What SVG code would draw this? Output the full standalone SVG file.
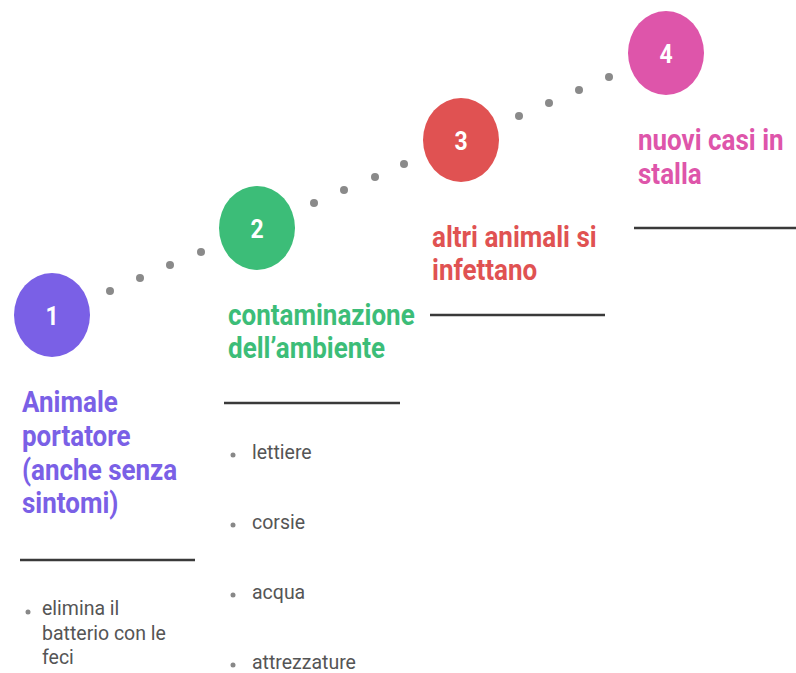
<svg xmlns="http://www.w3.org/2000/svg" width="796" height="673" viewBox="0 0 796 673">
<style>
.num{font-family:Roboto,"Liberation Sans",sans-serif;font-weight:bold;font-size:23px;fill:#fff;text-anchor:middle}
.title{font-family:Roboto,"Liberation Sans",sans-serif;font-weight:bold;font-size:26px}
.item{font-family:Roboto,"Liberation Sans",sans-serif;font-size:19.5px;fill:#555}
.rule{stroke:#3a3a3a;stroke-width:2.5}
.dot{fill:#8a8a8a}
.bul{fill:#888}
</style>
<rect width="796" height="673" fill="#fff"/>
<g id="connectors">
<circle class="dot" cx="110" cy="291" r="4"/>
<circle class="dot" cx="140" cy="278" r="4"/>
<circle class="dot" cx="170" cy="265" r="4"/>
<circle class="dot" cx="201" cy="252" r="4"/>
<circle class="dot" cx="314" cy="203" r="4"/>
<circle class="dot" cx="344" cy="190" r="4"/>
<circle class="dot" cx="375" cy="177" r="4"/>
<circle class="dot" cx="404" cy="164" r="4"/>
<circle class="dot" cx="519" cy="116" r="4"/>
<circle class="dot" cx="549" cy="103" r="4"/>
<circle class="dot" cx="579" cy="90" r="4"/>
<circle class="dot" cx="609" cy="77" r="4"/>
</g>
<g id="step1">
<ellipse cx="52" cy="315" rx="38" ry="42" fill="#7a60e6"/>
<text class="num" transform="translate(52,325) scale(1,1.15)">1</text>
<g fill="#7a60e6">
<text class="title" transform="translate(22,412) scale(1,1.15)">Animale</text>
<text class="title" transform="translate(22,446) scale(1,1.15)">portatore</text>
<text class="title" transform="translate(22,480) scale(1,1.15)">(anche senza</text>
<text class="title" transform="translate(22,513) scale(1,1.15)">sintomi)</text>
</g>
<line class="rule" x1="20" y1="560" x2="195" y2="560"/>
<circle class="bul" cx="28" cy="612" r="2.5"/>
<text class="item" transform="translate(42,615) scale(1,1.08)">elimina il</text>
<text class="item" transform="translate(42,640) scale(1,1.08)">batterio con le</text>
<text class="item" transform="translate(42,664) scale(1,1.08)">feci</text>
</g>
<g id="step2">
<ellipse cx="257" cy="228" rx="38" ry="42" fill="#3cbd78"/>
<text class="num" transform="translate(257,238) scale(1,1.15)">2</text>
<g fill="#3cbd78">
<text class="title" transform="translate(228,325) scale(1,1.15)">contaminazione</text>
<text class="title" transform="translate(228,358) scale(1,1.15)">dell’ambiente</text>
</g>
<line class="rule" x1="224" y1="403" x2="400" y2="403"/>
<circle class="bul" cx="233" cy="455" r="2.5"/>
<text class="item" transform="translate(252,459) scale(1,1.08)">lettiere</text>
<circle class="bul" cx="233" cy="525" r="2.5"/>
<text class="item" transform="translate(252,529) scale(1,1.08)">corsie</text>
<circle class="bul" cx="233" cy="595" r="2.5"/>
<text class="item" transform="translate(252,599) scale(1,1.08)">acqua</text>
<circle class="bul" cx="233" cy="665" r="2.5"/>
<text class="item" transform="translate(252,669) scale(1,1.08)">attrezzature</text>
</g>
<g id="step3">
<ellipse cx="461" cy="140" rx="38" ry="42" fill="#e05252"/>
<text class="num" transform="translate(461,150) scale(1,1.15)">3</text>
<g fill="#e05252">
<text class="title" transform="translate(432,247) scale(1,1.15)">altri animali si</text>
<text class="title" transform="translate(432,280) scale(1,1.15)">infettano</text>
</g>
<line class="rule" x1="430" y1="315" x2="605" y2="315"/>
</g>
<g id="step4">
<ellipse cx="666" cy="53" rx="38" ry="42" fill="#de55aa"/>
<text class="num" transform="translate(666,63) scale(1,1.15)">4</text>
<g fill="#de55aa">
<text class="title" transform="translate(638,150) scale(1,1.15)">nuovi casi in</text>
<text class="title" transform="translate(638,184) scale(1,1.15)">stalla</text>
</g>
<line class="rule" x1="634" y1="228" x2="796" y2="228"/>
</g>
</svg>
